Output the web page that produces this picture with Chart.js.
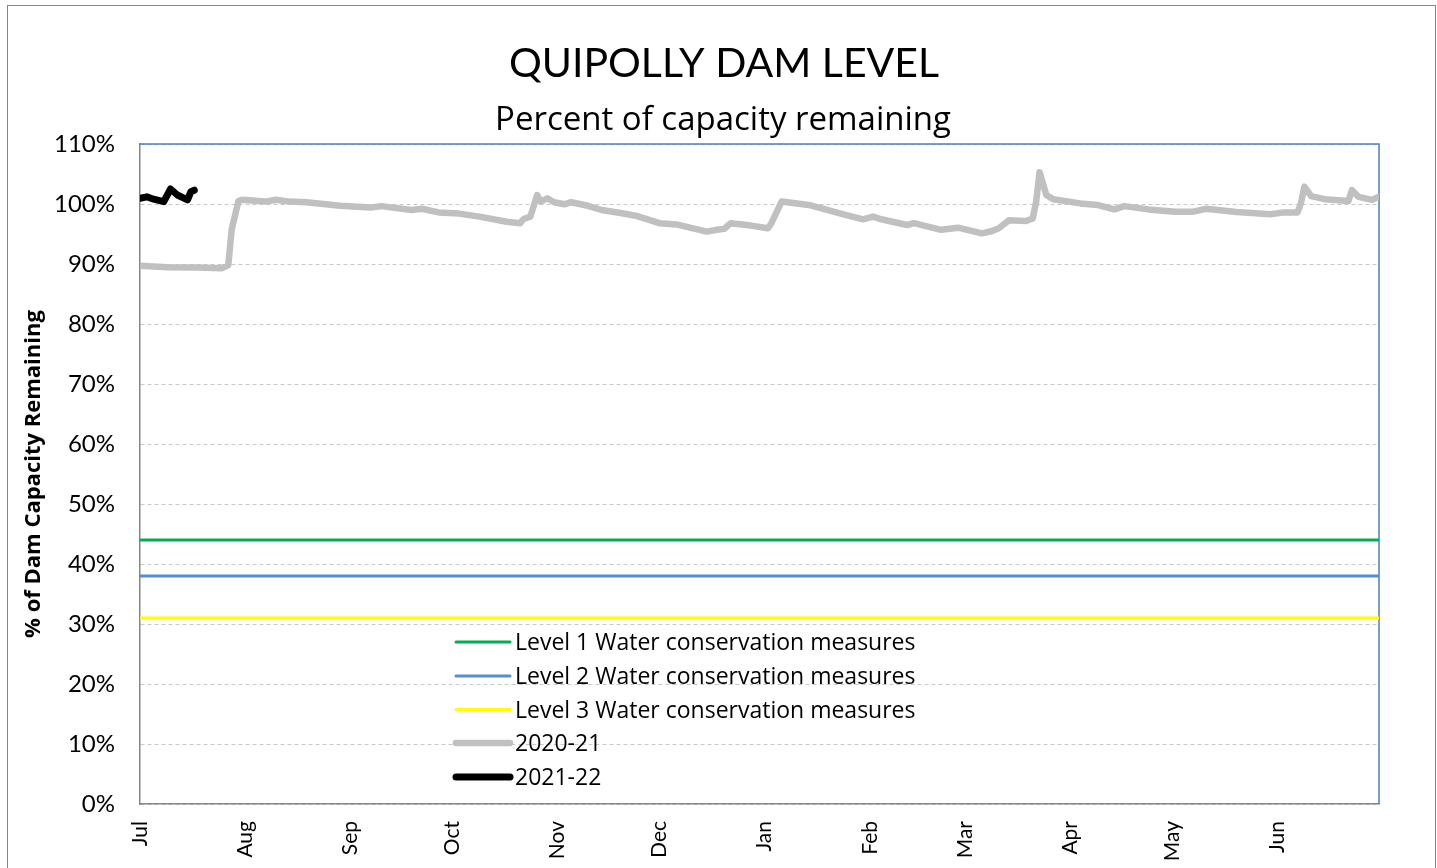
<!DOCTYPE html>
<html>
<head>
<meta charset="utf-8">
<title>Quipolly Dam Level</title>
<script src="https://cdn.jsdelivr.net/npm/chart.js@4.4.1/dist/chart.umd.min.js"></script>
<style>
  html, body { margin: 0; padding: 0; background: #fff; }
  #wrap { width: 1437px; height: 868px; position: relative; }
</style>
</head>
<body>
<div id="wrap"><canvas id="damChart" width="1437" height="868"></canvas></div>
<script>
// ---------- Data ----------
const monthLabels = ['Jul', 'Aug', 'Sep', 'Oct', 'Nov', 'Dec', 'Jan', 'Feb', 'Mar', 'Apr', 'May', 'Jun'];
const monthStartDays = [0, 31, 62, 92, 123, 153, 184, 215, 243, 274, 304, 335];
const yearLength = 365;

// day of the water year (0 = 1 Jul) and % of capacity
const days2020 = [0, 8, 17, 24, 26, 27, 29, 30, 37, 40, 44, 49, 59, 68, 71, 80, 83, 88, 94, 100,
  108, 112, 113, 115, 117, 118, 120, 122, 125, 127, 132, 136, 142, 146, 153, 158, 162, 167, 170, 172,
  174, 180, 184, 185, 186, 189, 197, 207, 213, 216, 218, 226, 228, 236, 241, 248, 251, 253, 256, 261,
  263, 264, 265, 267, 269, 277, 282, 287, 290, 297, 305, 310, 314, 323, 333, 337, 341, 342, 343, 345,
  349, 356, 357, 359, 363, 365];
const level2020 = [89.7, 89.45, 89.4, 89.3, 89.8, 95.7, 100.5, 100.7, 100.4, 100.7, 100.4, 100.3, 99.7, 99.4, 99.65, 99.0, 99.2, 98.6, 98.4, 97.9,
  97.05, 96.8, 97.5, 97.9, 101.5, 100.4, 100.95, 100.3, 99.95, 100.3, 99.7, 99.0, 98.45, 98.05, 96.8, 96.6, 96.05, 95.4, 95.7, 95.85,
  96.8, 96.4, 96.05, 95.95, 96.8, 100.4, 99.85, 98.3, 97.45, 97.9, 97.5, 96.5, 96.8, 95.7, 96.05, 95.1, 95.5, 95.95, 97.3, 97.15,
  97.6, 100.4, 105.3, 101.5, 100.8, 100.1, 99.85, 99.1, 99.65, 99.1, 98.7, 98.7, 99.2, 98.65, 98.3, 98.6, 98.6, 100.1, 102.9, 101.3,
  100.8, 100.5, 102.3, 101.2, 100.7, 101.2];

const days2021 = [0, 2, 4, 7, 9, 11, 14, 15, 16];
const level2021 = [100.95, 101.2, 100.8, 100.4, 102.5, 101.5, 100.7, 102.05, 102.3];

// restriction trigger levels (%)
const level1Trigger = 44;
const level2Trigger = 38;
const level3Trigger = 31;

const yMin = 0, yMax = 110, yStep = 10;

// ---------- Helpers ----------
const FONT = 'Lato, "Open Sans", "DejaVu Sans", sans-serif';
const FONT_WIDE = '"Open Sans", Lato, "DejaVu Sans", sans-serif';

function toPoints(xs, ys) {
  return xs.map((d, i) => ({ x: d, y: ys[i] }));
}
function flatLine(value) {
  return [{ x: 0, y: value }, { x: yearLength, y: value }];
}

// ---------- Plugins: frame, titles, legend ----------
const framePlugin = {
  id: 'frame',
  beforeDraw(chart) {
    const c = chart.ctx;
    c.save();
    c.fillStyle = '#fff';
    c.fillRect(0, 0, chart.width, chart.height);
    c.strokeStyle = '#868686';
    c.lineWidth = 1;
    c.strokeRect(7.5, 5.5, 1428, 900);
    c.restore();
  },
  beforeDatasetsDraw(chart) {
    const a = chart.chartArea;
    const c = chart.ctx;
    c.save();
    c.strokeStyle = '#4a7ebb';
    c.lineWidth = 1.5;
    c.beginPath();
    c.moveTo(a.left, a.top);
    c.lineTo(a.right, a.top);
    c.lineTo(a.right, a.bottom);
    c.stroke();
    c.restore();
  }
};

const titlePlugin = {
  id: 'titles',
  afterDraw(chart) {
    const c = chart.ctx;
    c.save();
    c.fillStyle = '#000';
    c.textAlign = 'center';
    c.textBaseline = 'alphabetic';
    c.font = '41px ' + FONT;
    c.fillText('QUIPOLLY DAM LEVEL', 724, 77);
    c.font = '33px ' + FONT_WIDE;
    c.fillText('Percent of capacity remaining', 723, 130);
    c.restore();
  }
};

const legendPlugin = {
  id: 'insideLegend',
  afterDraw(chart) {
    const c = chart.ctx;
    const rows = [642, 676, 709.5, 743, 777];
    c.save();
    c.font = '23px ' + FONT_WIDE;
    c.textAlign = 'left';
    c.textBaseline = 'alphabetic';
    chart.data.datasets.forEach((ds, i) => {
      const y = rows[i];
      c.strokeStyle = ds.borderColor;
      c.lineWidth = ds.borderWidth;
      c.lineCap = 'round';
      c.beginPath();
      c.moveTo(456, y);
      c.lineTo(510, y);
      c.stroke();
      c.fillStyle = '#000';
      c.fillText(ds.label, 515, y + 8);
    });
    c.restore();
  }
};

// ---------- Chart ----------
const ctx = document.getElementById('damChart').getContext('2d');

new Chart(ctx, {
  type: 'line',
  data: {
    datasets: [
      { label: 'Level 1 Water conservation measures', data: flatLine(level1Trigger), borderColor: '#00b050', borderWidth: 3 },
      { label: 'Level 2 Water conservation measures', data: flatLine(level2Trigger), borderColor: '#558ed5', borderWidth: 3 },
      { label: 'Level 3 Water conservation measures', data: flatLine(level3Trigger), borderColor: '#ffff00', borderWidth: 3 },
      { label: '2020-21', data: toPoints(days2020, level2020), borderColor: '#c0c0c0', borderWidth: 6.5 },
      { label: '2021-22', data: toPoints(days2021, level2021), borderColor: '#000000', borderWidth: 7 }
    ]
  },
  options: {
    responsive: false,
    devicePixelRatio: 1,
    animation: false,
    layout: { padding: { left: 0, right: 58, top: 144, bottom: 0 } },
    elements: {
      point: { radius: 0 },
      line: { tension: 0, borderJoinStyle: 'round', borderCapStyle: 'round', fill: false }
    },
    plugins: {
      legend: { display: false },
      title: { display: false },
      tooltip: { enabled: false }
    },
    scales: {
      x: {
        type: 'linear',
        min: 0,
        max: yearLength,
        afterFit: s => { s.height = 64; },
        afterBuildTicks: s => { s.ticks = monthStartDays.map(v => ({ value: v })); },
        grid: { display: false, drawTicks: false },
        border: { display: true, color: '#868686', width: 1.5 },
        ticks: {
          autoSkip: false,
          maxRotation: 90,
          minRotation: 90,
          padding: 17,
          color: '#000',
          font: { family: FONT, size: 21 },
          callback: (v, i) => monthLabels[i]
        }
      },
      y: {
        min: yMin,
        max: yMax,
        afterFit: s => { s.width = 140; },
        grid: { color: '#c8c8c8', lineWidth: 1, drawTicks: false },
        border: { display: true, color: '#868686', width: 1.5, dash: [4, 3] },
        ticks: {
          stepSize: yStep,
          padding: 25,
          color: '#000',
          font: { family: FONT, size: 24 },
          callback: v => v + '%'
        },
        title: {
          display: true,
          text: '% of Dam Capacity Remaining',
          color: '#000',
          font: { family: FONT_WIDE, size: 22, weight: 'bold' },
          padding: { top: 21, bottom: 0 }
        }
      }
    }
  },
  plugins: [framePlugin, titlePlugin, legendPlugin]
});
</script>
</body>
</html>
